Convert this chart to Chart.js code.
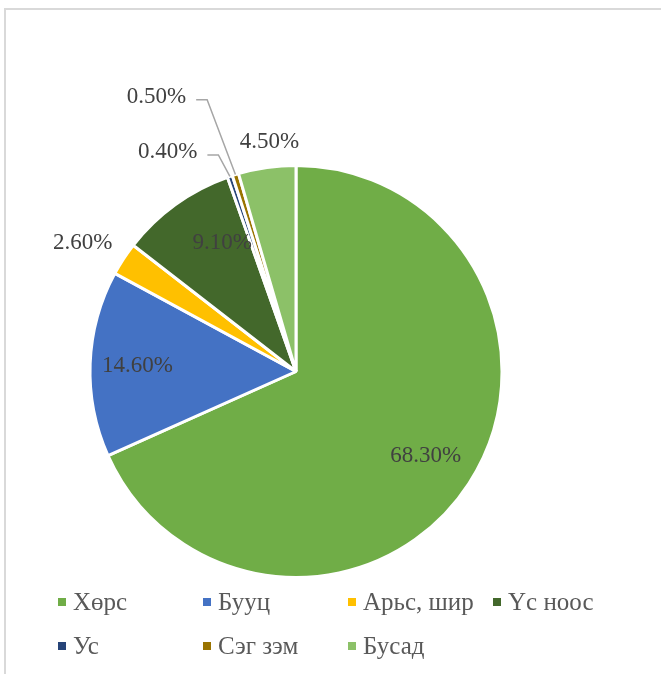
<!DOCTYPE html>
<html>
<head>
<meta charset="utf-8">
<script src="https://cdn.jsdelivr.net/npm/chart.js@4/dist/chart.umd.min.js"></script>
<style>
    html, body { margin: 0; padding: 0; background: #fff; }
    #wrap { position: relative; width: 661px; height: 674px; overflow: hidden; }
    #frame {
        position: absolute; left: 4px; top: 8px; width: 700px; height: 700px;
        border-top: 2px solid #d9d9d9; border-left: 2px solid #d9d9d9;
    }
    #box { position: absolute; left: 0; top: 0; width: 661px; height: 674px; }
</style>
</head>
<body>
<div id="wrap">
    <div id="frame"></div>
    <div id="box"><canvas id="pieChart"></canvas></div>
</div>
<script>
const categories = ["Хөрс", "Бууц", "Арьс, шир", "Үс ноос", "Ус", "Сэг зэм", "Бусад"];
const shares = [68.3, 14.6, 2.6, 9.1, 0.4, 0.5, 4.5];
const colors = ["#70AD47", "#4472C4", "#FFC000", "#43682B", "#264478", "#997300", "#8CC168"];

document.addEventListener("DOMContentLoaded", () => {

    const serif = "'Liberation Serif', 'Times New Roman', serif";

    // where each value label goes: r = fraction of radius, shift = degrees, leader = extra px for elbow
    const labelPlace = [
        { r: 0.75, shift: 0 },
        { r: 0.77, shift: 0 },
        { r: 1.21, shift: -2 },
        { r: 0.72, shift: 6 },
        { leader: 24 },
        { leader: 80 },
        { r: 1.12, shift: 1.5 }
    ];

    const valueLabels = {
        id: "valueLabels",
        afterDatasetsDraw(chart) {
            const ctx = chart.ctx;
            const arcs = chart.getDatasetMeta(0).data;
            ctx.save();
            ctx.font = "23px " + serif;
            ctx.fillStyle = "#404040";
            ctx.textBaseline = "middle";
            arcs.forEach((arc, i) => {
                const p = arc.getProps(["x", "y", "startAngle", "endAngle", "outerRadius"], true);
                const mid = (p.startAngle + p.endAngle) / 2;
                const text = shares[i].toFixed(2) + "%";
                const place = labelPlace[i];
                if (place.leader) {
                    const a = mid - Math.PI / 180;
                    const ex = p.x + Math.cos(mid) * p.outerRadius;
                    const ey = p.y + Math.sin(mid) * p.outerRadius;
                    const bx = p.x + Math.cos(a) * (p.outerRadius + place.leader);
                    const by = p.y + Math.sin(a) * (p.outerRadius + place.leader);
                    ctx.strokeStyle = "#a6a6a6";
                    ctx.lineWidth = 1.5;
                    ctx.beginPath();
                    ctx.moveTo(ex, ey);
                    ctx.lineTo(bx, by);
                    ctx.lineTo(bx - 11, by);
                    ctx.stroke();
                    ctx.textAlign = "right";
                    ctx.fillText(text, bx - 11 - 10, by - 3);
                } else {
                    const a = mid + place.shift * Math.PI / 180;
                    const r = p.outerRadius * place.r;
                    ctx.textAlign = "center";
                    ctx.fillText(text, p.x + Math.cos(a) * r, p.y + Math.sin(a) * r);
                }
            });
            ctx.restore();
        }
    };

    // legend grid, 4 columns, drawn on the canvas
    const gridLegend = {
        id: "gridLegend",
        afterDraw(chart) {
            const ctx = chart.ctx;
            const colX = [58, 203, 348, 493];
            const rowY = [602, 646];
            ctx.save();
            ctx.font = "25px " + serif;
            ctx.textBaseline = "middle";
            ctx.textAlign = "left";
            categories.forEach((name, i) => {
                const x = colX[i % 4];
                const y = rowY[Math.floor(i / 4)];
                ctx.fillStyle = colors[i];
                ctx.fillRect(x, y - 4, 8, 8);
                ctx.fillStyle = "#595959";
                ctx.fillText(name, x + 15, y + 1);
            });
            ctx.restore();
        }
    };

    new Chart(document.getElementById("pieChart"), {
        type: "pie",
        data: {
            labels: categories,
            datasets: [{
                data: shares,
                backgroundColor: colors,
                borderColor: "#ffffff",
                borderWidth: 3,
                radius: 206
            }]
        },
        options: {
            responsive: true,
            maintainAspectRatio: false,
            animation: false,
            layout: { padding: { left: 90, right: 159, top: 165, bottom: 96 } },
            plugins: {
                legend: { display: false },
                tooltip: { enabled: false }
            }
        },
        plugins: [valueLabels, gridLegend]
    });
});
</script>
</body>
</html>
